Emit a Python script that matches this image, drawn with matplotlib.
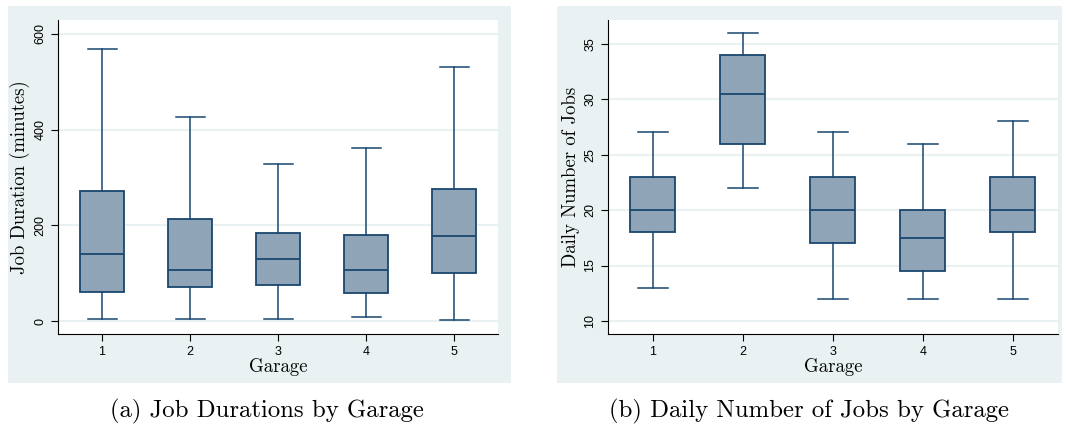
import matplotlib
matplotlib.use('Agg')
import matplotlib.pyplot as plt
from matplotlib.patches import Rectangle

# 车库编号
garages = ['1', '2', '3', '4', '5']

# (a) job durations, minutes: low whisker, Q1, median, Q3, high whisker
dur_low = [5, 5, 5, 9, 3]
dur_q1 = [60, 72, 76, 59, 101]
dur_med = [141, 107, 129, 107, 178]
dur_q3 = [272, 214, 184, 180, 275]
dur_high = [569, 427, 329, 361, 531]

# (b) daily number of jobs
num_low = [13, 22, 12, 12, 12]
num_q1 = [18, 26, 17, 14.5, 18]
num_med = [20, 30.5, 20, 17.5, 20]
num_q3 = [23, 34, 23, 20, 23]
num_high = [27, 36, 27, 26, 28]

BG = '#eaf1f3'
FILL = '#8fa4b7'
EDGE = '#1a476f'

plt.rcParams['font.family'] = ['Liberation Sans', 'DejaVu Sans']


def make_stats(lo, q1, med, q3, hi):
    return [dict(whislo=a, q1=b, med=c, q3=d, whishi=e, fliers=[], label=g)
            for a, b, c, d, e, g in zip(lo, q1, med, q3, hi, garages)]


def draw(ax, stats, ylim, yticks, ylabel):
    ax.bxp(stats, positions=range(1, 6), widths=0.5, capwidths=0.33,
           showfliers=False, patch_artist=True,
           boxprops=dict(facecolor=FILL, edgecolor=EDGE, linewidth=1.3),
           medianprops=dict(color=EDGE, linewidth=1.3),
           whiskerprops=dict(color=EDGE, linewidth=1.1),
           capprops=dict(color=EDGE, linewidth=1.1))
    ax.set_xlim(0.5, 5.5)
    ax.set_ylim(*ylim)
    ax.set_yticks(yticks)
    ax.set_xticks(range(1, 6))
    ax.set_xticklabels(garages)
    ax.tick_params(axis='both', labelsize=9, length=5, width=0.8, colors='black')
    for lab in ax.get_yticklabels():
        lab.set_rotation(90)
        lab.set_va('center')
    ax.yaxis.grid(True, color=BG, linewidth=1.5)
    ax.set_axisbelow(True)
    ax.spines['top'].set_visible(False)
    ax.spines['right'].set_visible(False)
    ax.set_xlabel('Garage', family='cmr10', fontsize=13.5, labelpad=0)
    ax.set_ylabel(ylabel, family='cmr10', fontsize=13.5, labelpad=3)


fig = plt.figure(figsize=(10.67, 4.28), dpi=100)
fig.patches.append(Rectangle((0.0075, 0.105), 0.4714, 0.881, transform=fig.transFigure,
                             facecolor=BG, edgecolor='none', zorder=-5))
fig.patches.append(Rectangle((0.522, 0.105), 0.4733, 0.881, transform=fig.transFigure,
                             facecolor=BG, edgecolor='none', zorder=-5))

ax1 = fig.add_axes([0.0544, 0.2196, 0.4124, 0.7336])
ax2 = fig.add_axes([0.5698, 0.2196, 0.4217, 0.7336])

draw(ax1, make_stats(dur_low, dur_q1, dur_med, dur_q3, dur_high),
     (-27, 629), [0, 200, 400, 600], 'Job Duration (minutes)')
draw(ax2, make_stats(num_low, num_q1, num_med, num_q3, num_high),
     (8.83, 37.13), [10, 15, 20, 25, 30, 35], 'Daily Number of Jobs')

fig.text(0.2505, 0.039, '(a) Job Durations by Garage', family='cmr10',
         fontsize=17.8, ha='center', va='center')
fig.text(0.758, 0.039, '(b) Daily Number of Jobs by Garage', family='cmr10',
         fontsize=17.8, ha='center', va='center')

fig.savefig('out.png', dpi=100)
